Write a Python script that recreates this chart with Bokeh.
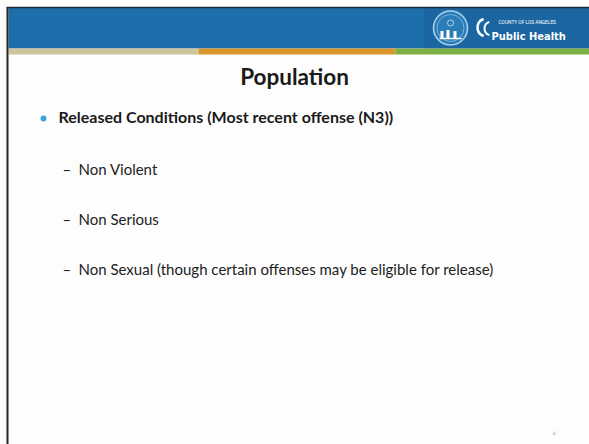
from bokeh.plotting import figure
from bokeh.models import Range1d, ColumnDataSource
from bokeh.core.properties import value
from bokeh.embed import file_html
from bokeh.resources import INLINE

# ---- slide content ----
slide_title = "Population"
main_bullet = "Released Conditions (Most recent offense (N3))"
sub_bullets = [
    "Non Violent",
    "Non Serious",
    "Non Sexual (though certain offenses may be eligible for release)",
]
logo_small = "COUNTY OF LOS ANGELES"
logo_name = "Public Health"
page_number = "6"
stripe_colors = ["#cdc69c", "#d8962c", "#7daf45"]

# ---- layout ----
W, H = 589, 444
p = figure(width=W, height=H, x_range=Range1d(0, W), y_range=Range1d(H, 0),
           output_backend="svg", toolbar_location=None, min_border=0,
           x_axis_location=None, y_axis_location=None)
p.grid.visible = False
p.outline_line_color = None
p.background_fill_color = "#fdfdfd"
p.border_fill_color = "white"

# header band
TOP, BAND = 7, 48
p.quad(left=8, right=W, top=TOP, bottom=BAND, fill_color="#1d6eaa", line_color=None)
p.quad(left=W * 0.72, right=W, top=TOP, bottom=BAND, fill_color="#1a5f98", line_color=None, fill_alpha=0.55)
p.segment(x0=6, y0=TOP, x1=W, y1=TOP, line_color="#1e2f3c", line_width=1.5)

# coloured stripe
edges = [8, 198, 395, W]
p.quad(left=edges[:-1], right=edges[1:], top=[BAND] * 3, bottom=[BAND + 6] * 3,
       fill_color=stripe_colors, line_color=None)

# left border
p.segment(x0=7, y0=TOP, x1=7, y1=H, line_color="#262626", line_width=2)

# seal
cx, cy = 450, 27.5
p.circle(x=cx, y=cy, radius=17, fill_color="#2a7db6", line_color="#a9d3ee", line_width=1.5)
p.circle(x=cx, y=cy, radius=13.5, fill_color=None, line_color="#8ec2e4", line_width=0.8)
p.quad(left=[cx - 10, cx - 4, cx + 3], right=[cx - 7, cx - 1, cx + 6],
       top=[cy + 3, cy + 2, cy + 3], bottom=[cy + 10, cy + 10, cy + 10],
       fill_color="white", line_color=None)
p.segment(x0=cx - 11, y0=cy + 10.5, x1=cx + 11, y1=cy + 10.5, line_color="white", line_width=1.5)
p.circle(x=cx, y=cy - 5, radius=3, fill_color=None, line_color="#cfe6f5", line_width=0.8)

# bracket swoosh
p.arc(x=[486, 491], y=[27, 28], radius=[9, 7], start_angle=1.9, end_angle=4.4,
      line_color="white", line_width=[2.5, 2])

p.text(x=[498], y=[22], text=[logo_small], text_color="white", text_font_size="4.8px",
       text_font=value("Roboto"), text_baseline="alphabetic")
p.text(x=[491], y=[35.5], text=[logo_name], text_color="white", text_font_size="11px",
       text_font=value("DejaVu Sans Condensed"), text_font_style="bold",
       text_baseline="alphabetic")

# title
p.text(x=[294], y=[76], text=[slide_title], text_color="#1a1a1a", text_font_size="22.5px",
       text_font=value("Lato"), text_font_style="bold", text_align="center",
       text_baseline="alphabetic")

# main bullet
p.scatter(x=[43], y=[118], size=6, marker="circle", fill_color="#3fa1de", line_color=None)
p.text(x=[58], y=[116], text=[main_bullet], text_color="#1a1a1a", text_font_size="16px",
       text_font=value("Lato"), text_font_style="bold", text_baseline="alphabetic")

# sub bullets
base0, step = 168, 50
ys = [base0 + i * step for i in range(len(sub_bullets))]
src = ColumnDataSource(dict(y=ys, t=sub_bullets, d=["\u2013"] * len(sub_bullets)))
p.text(x=62, y="y", text="d", source=src, text_color="#222222", text_font_size="15px",
       text_font=value("Lato"), text_baseline="alphabetic")
p.text(x=78, y="y", text="t", source=src, text_color="#222222", text_font_size="15px",
       text_font=value("Lato"), text_baseline="alphabetic")

# page number
p.text(x=[552], y=[432], text=[page_number], text_color="#a8b0b8", text_font_size="6px",
       text_font=value("Lato"), text_baseline="alphabetic")

open("out.html", "w").write(file_html(p, INLINE))
